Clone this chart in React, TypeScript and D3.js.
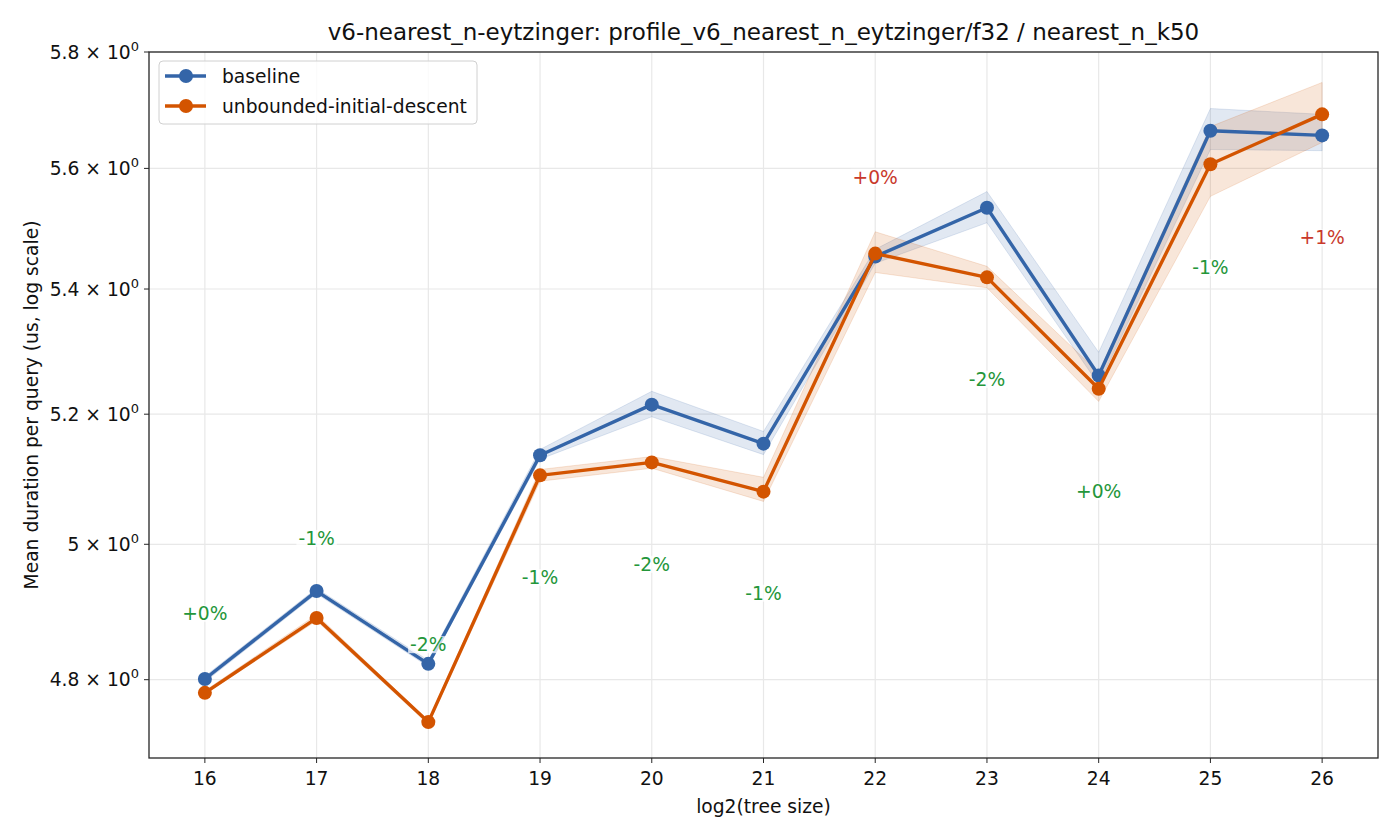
import { area, line, scaleLinear, scaleLog, select } from "d3";
import { useEffect, useRef } from "react";

const treeSizes = [16, 17, 18, 19, 20, 21, 22, 23, 24, 25, 26];

const baselineMean = [4.801, 4.93, 4.823, 5.136, 5.215, 5.154, 5.453, 5.534, 5.261, 5.664, 5.656];
const baselineLow = [4.797, 4.926, 4.819, 5.13, 5.196, 5.137, 5.442, 5.509, 5.247, 5.632, 5.63];
const baselineHigh = [4.805, 4.934, 4.828, 5.145, 5.236, 5.173, 5.465, 5.561, 5.298, 5.702, 5.692];

const candidateMean = [4.781, 4.89, 4.739, 5.105, 5.125, 5.08, 5.458, 5.419, 5.24, 5.607, 5.692];
const candidateLow = [4.779, 4.886, 4.736, 5.096, 5.116, 5.065, 5.427, 5.402, 5.22, 5.553, 5.644];
const candidateHigh = [4.784, 4.895, 4.741, 5.114, 5.134, 5.102, 5.494, 5.437, 5.266, 5.671, 5.747];

const deltaLabels = ["+0%", "-1%", "-2%", "-1%", "-2%", "-1%", "+0%", "-2%", "+0%", "-1%", "+1%"];
const deltaLabelY = [4.897, 5.009, 4.851, 4.95, 4.97, 4.927, 5.585, 5.255, 5.08, 5.435, 5.484];

const yTicks = [4.8, 5.0, 5.2, 5.4, 5.6, 5.8];
const yTickLabels = ["4.8", "5", "5.2", "5.4", "5.6", "5.8"];

const seriesNames = ["baseline", "unbounded-initial-descent"];
const seriesColors = ["#3465a8", "#d35400"];

const title = "v6-nearest_n-eytzinger: profile_v6_nearest_n_eytzinger/f32 / nearest_n_k50";

const FONT = "'DejaVu Sans', sans-serif";
const FS = 18.7;
const W = 1400;
const H = 840;

export default function App() {
  const svgRef = useRef<SVGSVGElement | null>(null);

  useEffect(() => {
    document.body.style.margin = "0";
    if (!svgRef.current) return;
    const svg = select(svgRef.current);
    svg.selectAll("*").remove();

    const margin = { top: 52, right: 22, bottom: 82, left: 149 };
    const x = scaleLinear().domain([15.5, 26.5]).range([margin.left, W - margin.right]);
    const y = scaleLog().domain([4.688, 5.8]).range([H - margin.bottom, margin.top]);

    svg.append("rect").attr("width", W).attr("height", H).attr("fill", "#fff");

    // grid
    const grid = svg.append("g").attr("stroke", "#e8e8e8").attr("stroke-width", 1.2);
    treeSizes.forEach((t) => {
      grid.append("line").attr("x1", x(t)).attr("x2", x(t)).attr("y1", margin.top).attr("y2", H - margin.bottom);
    });
    yTicks.forEach((v) => {
      grid.append("line").attr("x1", margin.left).attr("x2", W - margin.right).attr("y1", y(v)).attr("y2", y(v));
    });

    const series = [
      { mean: baselineMean, low: baselineLow, high: baselineHigh },
      { mean: candidateMean, low: candidateLow, high: candidateHigh },
    ];

    // confidence bands
    series.forEach((s, i) => {
      const band = area<number>()
        .x((_, j) => x(treeSizes[j]))
        .y0((_, j) => y(s.low[j]))
        .y1((_, j) => y(s.high[j]));
      svg
        .append("path")
        .attr("d", band(s.mean))
        .attr("fill", seriesColors[i])
        .attr("fill-opacity", 0.15)
        .attr("stroke", seriesColors[i])
        .attr("stroke-opacity", 0.15)
        .attr("stroke-width", 1);
    });

    // mean lines + markers
    series.forEach((s, i) => {
      const path = line<number>()
        .x((_, j) => x(treeSizes[j]))
        .y((d) => y(d));
      svg
        .append("path")
        .attr("d", path(s.mean))
        .attr("fill", "none")
        .attr("stroke", seriesColors[i])
        .attr("stroke-width", 3.4)
        .attr("stroke-linejoin", "round");
      svg
        .append("g")
        .selectAll("circle")
        .data(s.mean)
        .join("circle")
        .attr("cx", (_, j) => x(treeSizes[j]))
        .attr("cy", (d) => y(d))
        .attr("r", 7)
        .attr("fill", seriesColors[i]);
    });

    // spines
    svg
      .append("rect")
      .attr("x", margin.left)
      .attr("y", margin.top)
      .attr("width", W - margin.right - margin.left)
      .attr("height", H - margin.bottom - margin.top)
      .attr("fill", "none")
      .attr("stroke", "#262626")
      .attr("stroke-width", 1.3);

    // x ticks
    const xt = svg.append("g");
    treeSizes.forEach((t) => {
      xt.append("line")
        .attr("x1", x(t))
        .attr("x2", x(t))
        .attr("y1", H - margin.bottom)
        .attr("y2", H - margin.bottom + 5)
        .attr("stroke", "#262626")
        .attr("stroke-width", 1);
      xt.append("text")
        .attr("x", x(t))
        .attr("y", H - margin.bottom + 27)
        .attr("text-anchor", "middle")
        .attr("font-family", FONT)
        .attr("font-size", FS)
        .attr("fill", "#111")
        .text(t);
    });

    // y ticks
    const yt = svg.append("g");
    yTicks.forEach((v, i) => {
      yt.append("line")
        .attr("x1", margin.left - 5)
        .attr("x2", margin.left)
        .attr("y1", y(v))
        .attr("y2", y(v))
        .attr("stroke", "#262626")
        .attr("stroke-width", 1);
      const label = yt
        .append("text")
        .attr("x", margin.left - 10)
        .attr("y", y(v) + 6.5)
        .attr("text-anchor", "end")
        .attr("font-family", FONT)
        .attr("font-size", FS)
        .attr("fill", "#111");
      label.append("tspan").text(`${yTickLabels[i]} \u00d7 10`);
      label.append("tspan").attr("dy", -8).attr("font-size", 13).text("0");
    });

    // axis labels + title
    svg
      .append("text")
      .attr("x", (margin.left + W - margin.right) / 2)
      .attr("y", H - 27)
      .attr("text-anchor", "middle")
      .attr("font-family", FONT)
      .attr("font-size", FS)
      .attr("fill", "#111")
      .text("log2(tree size)");
    svg
      .append("text")
      .attr("transform", `translate(38,${(margin.top + H - margin.bottom) / 2}) rotate(-90)`)
      .attr("text-anchor", "middle")
      .attr("font-family", FONT)
      .attr("font-size", FS)
      .attr("fill", "#111")
      .text("Mean duration per query (us, log scale)");
    svg
      .append("text")
      .attr("x", (margin.left + W - margin.right) / 2)
      .attr("y", 40)
      .attr("text-anchor", "middle")
      .attr("font-family", FONT)
      .attr("font-size", 23)
      .attr("fill", "#111")
      .text(title);

    // delta annotations
    const ann = svg.append("g");
    treeSizes.forEach((t, i) => {
      const worse = candidateMean[i] > baselineMean[i];
      const g = ann.append("g");
      const txt = g
        .append("text")
        .attr("x", x(t))
        .attr("y", y(deltaLabelY[i]))
        .attr("dy", "0.35em")
        .attr("text-anchor", "middle")
        .attr("font-family", FONT)
        .attr("font-size", FS)
        .attr("fill", worse ? "#c9392b" : "#24963a")
        .text(deltaLabels[i]);
      const bb = (txt.node() as SVGTextElement).getBBox();
      g.insert("rect", "text")
        .attr("x", bb.x - 2)
        .attr("y", bb.y + 2)
        .attr("width", bb.width + 4)
        .attr("height", bb.height - 4)
        .attr("fill", "#fff")
        .attr("fill-opacity", 0.75);
    });

    // legend
    const lg = svg.append("g").attr("transform", "translate(159,61)");
    lg.append("rect")
      .attr("width", 318)
      .attr("height", 63)
      .attr("rx", 4)
      .attr("fill", "#fff")
      .attr("fill-opacity", 0.8)
      .attr("stroke", "#d0d0d0");
    seriesNames.forEach((name, i) => {
      const cy = 15 + i * 30;
      lg.append("line")
        .attr("x1", 6)
        .attr("x2", 47)
        .attr("y1", cy)
        .attr("y2", cy)
        .attr("stroke", seriesColors[i])
        .attr("stroke-width", 3.4);
      lg.append("circle").attr("cx", 27).attr("cy", cy).attr("r", 7).attr("fill", seriesColors[i]);
      lg.append("text")
        .attr("x", 63)
        .attr("y", cy + 6.5)
        .attr("font-family", FONT)
        .attr("font-size", FS)
        .attr("fill", "#111")
        .text(name);
    });
  }, []);

  return (
    <svg
      ref={svgRef}
      width={W}
      height={H}
      viewBox={`0 0 ${W} ${H}`}
      style={{ display: "block" }}
      role="img"
      aria-label="Mean duration per query by tree size"
    />
  );
}
